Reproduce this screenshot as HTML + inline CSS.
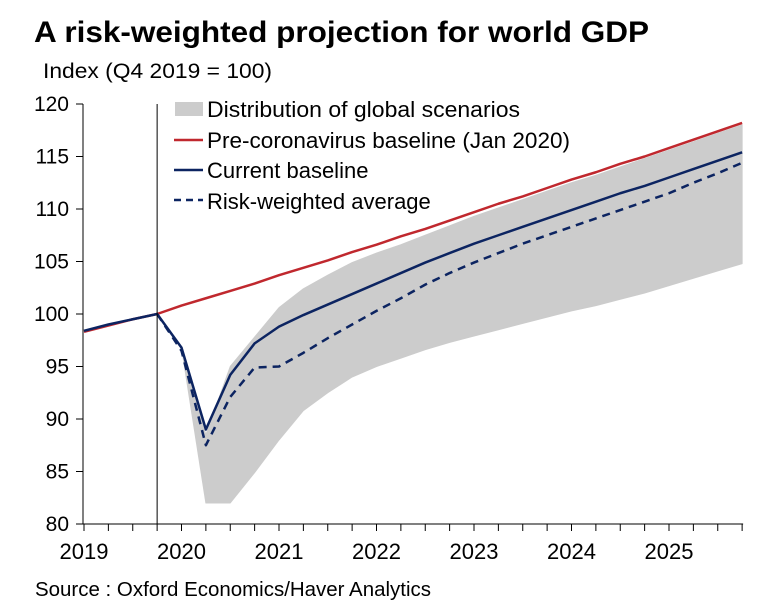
<!DOCTYPE html>
<html><head><meta charset="utf-8"><style>
body{margin:0;background:#fff;width:779px;height:614px;overflow:hidden;font-family:"Liberation Sans",Arial,sans-serif}
svg{display:block}
</style></head><body>
<svg id="chart" width="779" height="614" xmlns="http://www.w3.org/2000/svg">
<text x="34" y="42" font-size="30" font-weight="bold" fill="#000" textLength="615" lengthAdjust="spacingAndGlyphs">A risk-weighted projection for world GDP</text>
<text x="43" y="78" font-size="21" fill="#000" textLength="229" lengthAdjust="spacingAndGlyphs">Index (Q4 2019 = 100)</text>
<text x="35" y="596" font-size="20" fill="#000" textLength="396" lengthAdjust="spacingAndGlyphs">Source : Oxford Economics/Haver Analytics</text>
<g id="band"></g><g id="lines"></g><g id="axes"></g>
<g font-size="22" fill="#000">
<rect x="175" y="102" width="28" height="14" fill="#cccccc"/>
<text x="207" y="117" textLength="313" lengthAdjust="spacingAndGlyphs">Distribution of global scenarios</text>
<line x1="174" y1="140" x2="203" y2="140" stroke="#c0282e" stroke-width="2.5"/>
<text x="207" y="148" textLength="363" lengthAdjust="spacingAndGlyphs">Pre-coronavirus baseline (Jan 2020)</text>
<line x1="174" y1="170" x2="203" y2="170" stroke="#0c2461" stroke-width="2.5"/>
<text x="207" y="178">Current baseline</text>
<line x1="174" y1="200" x2="203" y2="200" stroke="#0c2461" stroke-width="2.5" stroke-dasharray="7,5"/>
<text x="207" y="209">Risk-weighted average</text>
</g>
</svg>
<script>
const yearLabels=["2019","2020","2021","2022","2023","2024","2025"];
const yTicks=[80,85,90,95,100,105,110,115,120];
const preCovid=[98.3,98.9,99.5,100,100.8,101.5,102.2,102.9,103.7,104.4,105.1,105.9,106.6,107.4,108.1,108.9,109.7,110.5,111.2,112.0,112.8,113.5,114.3,115.0,115.8,116.6,117.4,118.2];
const current=[98.4,99.0,99.5,100,96.8,89.0,94.2,97.2,98.8,99.9,100.9,101.9,102.9,103.9,104.9,105.8,106.7,107.5,108.3,109.1,109.9,110.7,111.5,112.2,113.0,113.8,114.6,115.4];
const riskWeighted=[null,null,null,100,96.5,87.5,92.1,94.9,95.0,96.3,97.7,99.0,100.3,101.5,102.8,103.9,104.9,105.8,106.7,107.5,108.3,109.1,109.9,110.7,111.5,112.5,113.4,114.4];
const bandUpper=[null,null,null,null,96.8,88.5,95.0,97.8,100.6,102.4,103.7,104.9,105.8,106.6,107.5,108.4,109.3,110.1,110.9,111.7,112.5,113.2,114.0,114.8,115.6,116.4,117.2,118.0];
const bandLower=[null,null,null,null,96.8,82.0,82.0,84.9,88.0,90.8,92.5,94.0,95.0,95.8,96.6,97.3,97.9,98.5,99.1,99.7,100.3,100.8,101.4,102.0,102.7,103.4,104.1,104.8];
const X0=84,DX=24.375,Y80=524,PU=10.5;
const xs=i=>X0+i*DX, ys=v=>Y80-(v-80)*PU;
const NS="http://www.w3.org/2000/svg";
function mk(t,a,p){const e=document.createElementNS(NS,t);for(const k in a)e.setAttribute(k,a[k]);p.appendChild(e);return e;}
const band=document.getElementById('band'),lines=document.getElementById('lines'),axes=document.getElementById('axes');
let up=[],lo=[];
bandUpper.forEach((v,i)=>{if(v!==null){up.push(xs(i)+','+ys(v));lo.unshift(xs(i)+','+ys(bandLower[i]));}});
const bp=mk('polygon',{points:up.concat(lo).join(' '),fill:'#cccccc','stroke':'#cccccc','stroke-linejoin':'round','stroke-width':1},band);


function line(arr,col,dash,name){
  const pts=[];arr.forEach((v,i)=>{if(v!==null)pts.push(xs(i)+','+ys(v));});
  const p=mk('polyline',{points:pts.join(' '),fill:'none',stroke:col,'stroke-width':2.5,'stroke-linejoin':'round'},lines);
  if(dash)p.setAttribute('stroke-dasharray',dash);
  
  
}
line(preCovid,'#c0282e',null,'pre-covid-baseline-line');
line(riskWeighted,'#0c2461','8,6','risk-weighted-average-line');
line(current,'#0c2461',null,'current-baseline-line');
const vl=mk('line',{x1:xs(3),x2:xs(3),y1:104,y2:Y80,stroke:'#000','stroke-width':1},axes);


const ya=mk('line',{x1:83,x2:83,y1:104,y2:Y80,stroke:'#000','stroke-width':1},axes);


const xa=mk('line',{x1:76,x2:xs(27)+1,y1:Y80,y2:Y80,stroke:'#000','stroke-width':1},axes);


yTicks.forEach(v=>{
  const t=mk('line',{x1:76,x2:83,y1:ys(v),y2:ys(v),stroke:'#000'},axes);
  
  
  const l=mk('text',{x:69,y:ys(v)+7,'font-size':21,'text-anchor':'end',fill:'#000'},axes);
  l.textContent=v;
  
  
});
for(let i=0;i<28;i++){
  const t=mk('line',{x1:xs(i),x2:xs(i),y1:Y80,y2:Y80+7,stroke:'#000'},axes);
  
  
}
yearLabels.forEach((y,k)=>{
  const l=mk('text',{x:xs(k*4),y:559,'font-size':22,'text-anchor':'middle',fill:'#000'},axes);
  l.textContent=y;
  
  
});
</script>
</body></html>
